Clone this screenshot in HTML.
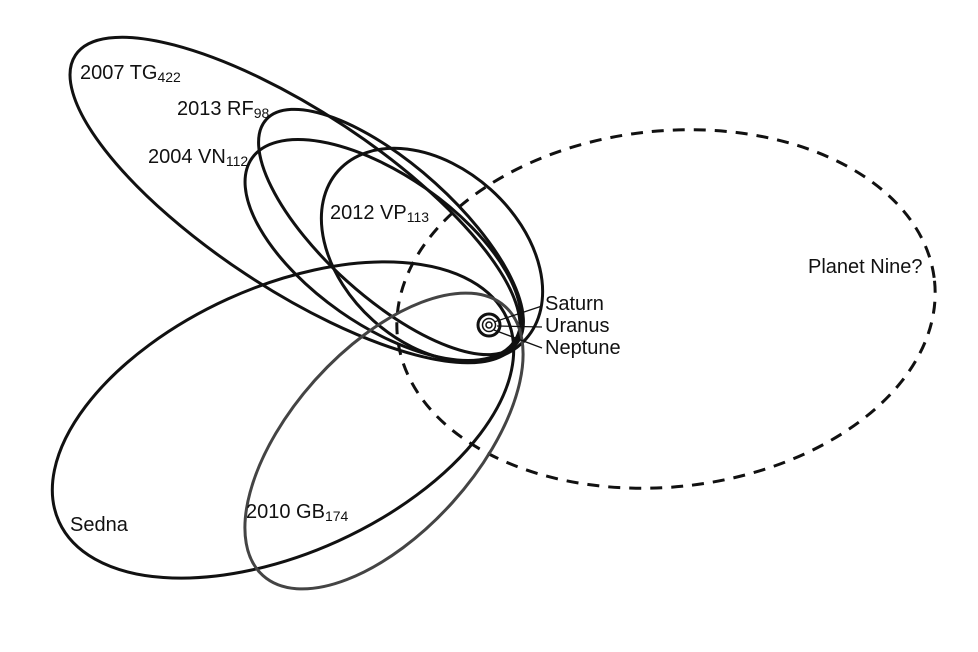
<!DOCTYPE html>
<html><head><meta charset="utf-8"><style>
html,body{margin:0;padding:0;background:#fff;}
svg{display:block;}
text{font-family:"Liberation Sans",sans-serif;font-size:20px;fill:#111;}
.s{font-size:14px;}
</style></head><body>
<svg width="978" height="652" viewBox="0 0 978 652">
<g fill="none" stroke="#111" stroke-width="3">
<ellipse cx="666" cy="309" rx="270" ry="178" transform="rotate(-6 666 309)" stroke-dasharray="12 9"/>
<ellipse cx="295" cy="200" rx="263" ry="89" transform="rotate(33.4 295 200)"/>
<ellipse cx="391" cy="232" rx="168" ry="66" transform="rotate(42 391 232)"/>
<ellipse cx="383" cy="250" rx="160" ry="75" transform="rotate(35 383 250)"/>
<ellipse cx="432" cy="255" rx="126" ry="88" transform="rotate(42 432 255)"/>
<ellipse cx="283" cy="420" rx="246" ry="133" transform="rotate(-24.4 283 420)"/>
<ellipse cx="384" cy="441" rx="181" ry="92" transform="rotate(-48 384 441)" stroke="#444"/>
<circle cx="489" cy="325" r="11" stroke-width="3"/>
<circle cx="489" cy="325" r="6.5" stroke-width="1.5"/>
<circle cx="489" cy="325" r="3" stroke-width="1.5"/>
<g stroke-width="1.3">
<line x1="494" y1="322" x2="542" y2="306"/>
<line x1="497" y1="326" x2="542" y2="327"/>
<line x1="494" y1="330" x2="542" y2="348"/>
</g>
</g>
<text x="80" y="79">2007 TG<tspan class="s" dy="3">422</tspan></text>
<text x="177" y="115">2013 RF<tspan class="s" dy="3">98</tspan></text>
<text x="148" y="163">2004 VN<tspan class="s" dy="3">112</tspan></text>
<text x="330" y="219">2012 VP<tspan class="s" dy="3">113</tspan></text>
<text x="808" y="273">Planet Nine?</text>
<text x="545" y="310">Saturn</text>
<text x="545" y="332">Uranus</text>
<text x="545" y="354">Neptune</text>
<text x="70" y="531">Sedna</text>
<text x="246" y="518" fill="#333">2010 GB<tspan class="s" dy="3">174</tspan></text>
</svg>
</body></html>
